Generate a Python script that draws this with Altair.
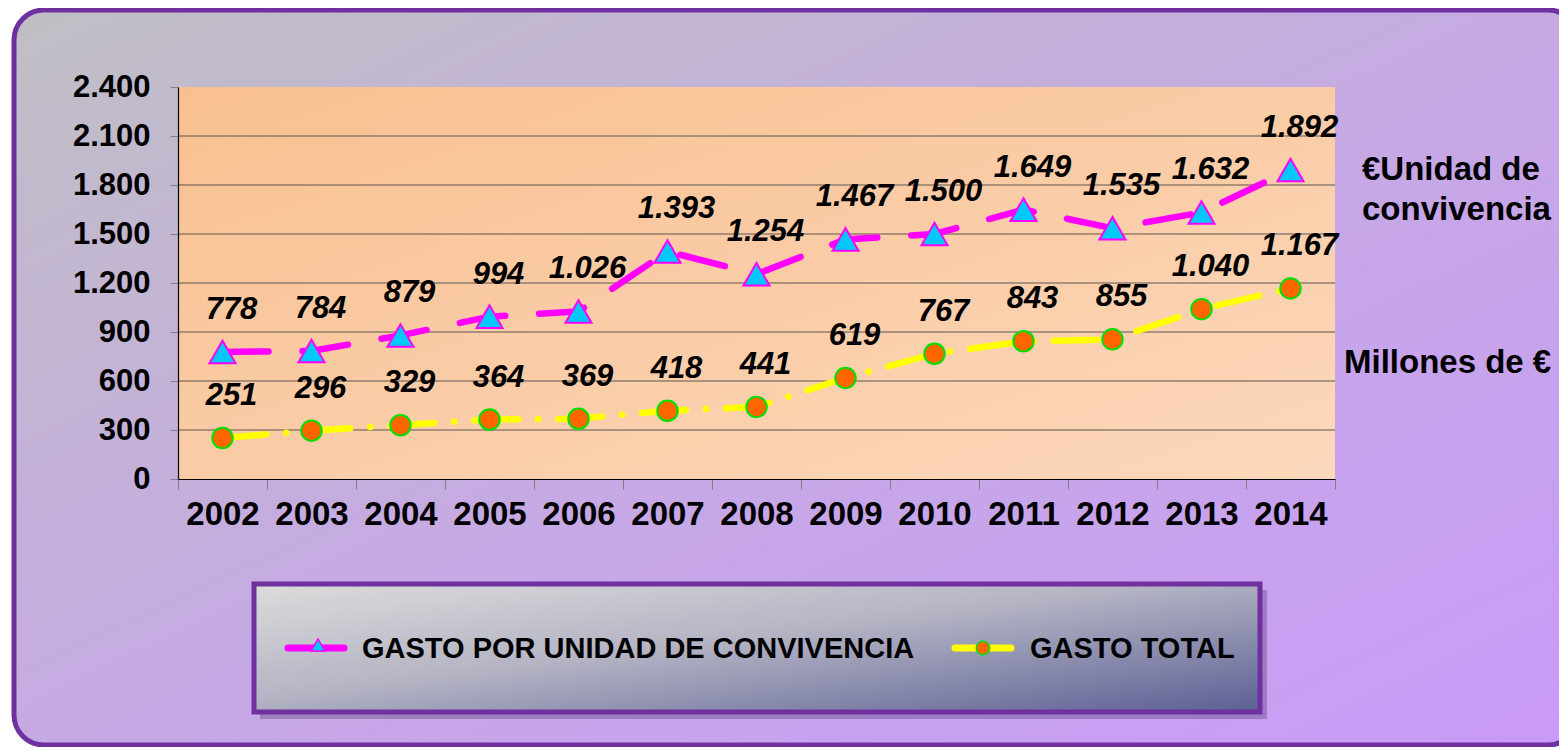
import altair as alt
import pandas as pd

# ---------------- data ----------------
years = ["2002", "2003", "2004", "2005", "2006", "2007", "2008",
         "2009", "2010", "2011", "2012", "2013", "2014"]
gasto_unidad = [778, 784, 879, 994, 1026, 1393, 1254, 1467, 1500, 1649, 1535, 1632, 1892]
gasto_total = [251, 296, 329, 364, 369, 418, 441, 619, 767, 843, 855, 1040, 1167]
y_ticks = [0, 300, 600, 900, 1200, 1500, 1800, 2100, 2400]
grid_values = [300, 600, 900, 1200, 1500, 1800, 2100]

serie_unidad = "GASTO POR UNIDAD DE CONVIVENCIA"
serie_total = "GASTO TOTAL"
texto_unidad = ["€Unidad de", "convivencia"]
texto_total = "Millones de €"

FONT = "Liberation Sans"
W, H = 1157, 392

df_u = pd.DataFrame({"year": years, "value": gasto_unidad})
df_t = pd.DataFrame({"year": years, "value": gasto_total})
df_grid = pd.DataFrame({"value": grid_values})
one = pd.DataFrame({"k": [0]})

LABEL_EXPR = "replace(format(datum.value, ','), ',', '.')"


def grad(stops):
    return alt.LinearGradient(
        gradient="linear",
        stops=[alt.GradientStop(color=c, offset=o) for o, c in stops],
        x1=0, y1=0, x2=1, y2=1,
    )


x_enc = alt.X(
    "year:O",
    bandPosition=0.5,
    scale=alt.Scale(type="band", paddingInner=0, paddingOuter=0),
    axis=alt.Axis(
        title=None, labelAngle=0, labelFont=FONT, labelFontSize=33,
        labelFontWeight="bold", labelColor="black", tickBand="extent",
        tickSize=10, tickColor="#808080", domainColor="black", domainWidth=1.2,
        labelPadding=9, grid=False, zindex=1,
    ),
)
y_enc = alt.Y(
    "value:Q",
    scale=alt.Scale(domain=[0, 2400], nice=False),
    axis=alt.Axis(
        title=None, values=y_ticks, labelExpr=LABEL_EXPR, labelFont=FONT,
        labelFontSize=31, labelFontWeight="bold", labelColor="black",
        tickSize=8, tickColor="#808080", domainColor="black", domainWidth=1.2,
        labelPadding=20, grid=False, zindex=1,
    ),
)

# ---------------- decoration ----------------
frame = alt.Chart(one).mark_rect(
    fill=grad([(0, "#c0bfc4"), (0.55, "#c6a8e6"), (1, "#c99af8")]),
    stroke="#7030a0", strokeWidth=5, cornerRadius=30,
).encode(x=alt.value(-164), x2=alt.value(1400), y=alt.value(-77), y2=alt.value(658))

plot_bg = alt.Chart(one).mark_rect(
    fill=grad([(0, "#f8c090"), (1, "#fcd8bc")]),
).encode(x=alt.value(0), x2=alt.value(W), y=alt.value(0), y2=alt.value(H))

grid = alt.Chart(df_grid).mark_rule(color="#5f5550", strokeWidth=1).encode(y="value:Q")

# ---------------- series ----------------
line_u = alt.Chart(df_u).mark_line(
    color="#ff00ff", strokeWidth=6.5, strokeCap="round", strokeDash=[46, 34],
).encode(x=x_enc, y=y_enc)

line_t = alt.Chart(df_t).mark_line(
    color="#ffff00", strokeWidth=6.5, strokeCap="round", strokeDash=[44, 20, 0.1, 20],
).encode(x=x_enc, y=y_enc)

pts_u = alt.Chart(df_u).mark_point(
    shape="triangle-up", filled=True, fill="#00c8f8", stroke="#ff00ff",
    strokeWidth=2, size=680, opacity=1,
).encode(x=x_enc, y=y_enc)

pts_t = alt.Chart(df_t).mark_point(
    shape="circle", filled=True, fill="#ff6600", stroke="#00e000",
    strokeWidth=2, size=420, opacity=1,
).encode(x=x_enc, y=y_enc)

lbl_style = dict(font=FONT, fontSize=31, fontWeight="bold", fontStyle="italic",
                 color="black", dx=9, dy=-42)
lbl_u = alt.Chart(df_u).transform_calculate(lbl=LABEL_EXPR).mark_text(**lbl_style).encode(
    x=x_enc, y=y_enc, text="lbl:N")
lbl_t = alt.Chart(df_t).transform_calculate(lbl=LABEL_EXPR).mark_text(**lbl_style).encode(
    x=x_enc, y=y_enc, text="lbl:N")

# ---------------- right side texts ----------------
side_style = dict(font=FONT, fontSize=33, fontWeight="bold", color="black",
                  align="left", baseline="middle")
side1 = alt.Chart(one).mark_text(**side_style).encode(
    x=alt.value(1184), y=alt.value(83), text=alt.value(texto_unidad[0]))
side2 = alt.Chart(one).mark_text(**side_style).encode(
    x=alt.value(1184), y=alt.value(123), text=alt.value(texto_unidad[1]))
side3 = alt.Chart(one).mark_text(**side_style).encode(
    x=alt.value(1166), y=alt.value(276), text=alt.value(texto_total))

# ---------------- legend box ----------------
leg_shadow = alt.Chart(one).mark_rect(fill="#3a2a5a", opacity=0.3).encode(
    x=alt.value(82), x2=alt.value(1089), y=alt.value(503), y2=alt.value(632))
leg_box = alt.Chart(one).mark_rect(
    fill=grad([(0, "#dcdcdc"), (0.45, "#b4b4c4"), (1, "#5c6094")]),
    stroke="#7030a0", strokeWidth=5,
).encode(x=alt.value(76), x2=alt.value(1082), y=alt.value(497), y2=alt.value(625))

leg_line_u = alt.Chart(one).mark_rule(color="#ff00ff", strokeWidth=7, strokeCap="round").encode(
    x=alt.value(110), x2=alt.value(166), y=alt.value(561))
leg_pt_u = alt.Chart(one).mark_point(
    shape="triangle-up", filled=True, fill="#00c8f8", stroke="#ff00ff",
    strokeWidth=1.5, size=200, opacity=1,
).encode(x=alt.value(140), y=alt.value(558))
leg_txt_u = alt.Chart(one).mark_text(
    font=FONT, fontSize=29, fontWeight="bold", color="black", align="left", baseline="middle",
).encode(x=alt.value(184), y=alt.value(562), text=alt.value(serie_unidad))

leg_line_t = alt.Chart(one).mark_rule(color="#ffff00", strokeWidth=7, strokeCap="round").encode(
    x=alt.value(777), x2=alt.value(833), y=alt.value(561))
leg_pt_t = alt.Chart(one).mark_point(
    shape="circle", filled=True, fill="#ff6600", stroke="#00e000",
    strokeWidth=1.5, size=180, opacity=1,
).encode(x=alt.value(805), y=alt.value(561))
leg_txt_t = alt.Chart(one).mark_text(
    font=FONT, fontSize=29, fontWeight="bold", color="black", align="left", baseline="middle",
).encode(x=alt.value(852), y=alt.value(562), text=alt.value(serie_total))

chart = alt.layer(
    frame, plot_bg, grid,
    line_t, line_u, pts_t, pts_u, lbl_t, lbl_u,
    side1, side2, side3,
    leg_shadow, leg_box, leg_line_u, leg_pt_u, leg_txt_u, leg_line_t, leg_pt_t, leg_txt_t,
).properties(
    width=W, height=H,
    autosize=alt.AutoSizeParams(type="none"),
    padding={"left": 170, "top": 79, "right": 224, "bottom": 268},
    background="white",
).configure_view(stroke=None)

chart.save("out.html", embed_options={"renderer": "svg", "actions": False})
